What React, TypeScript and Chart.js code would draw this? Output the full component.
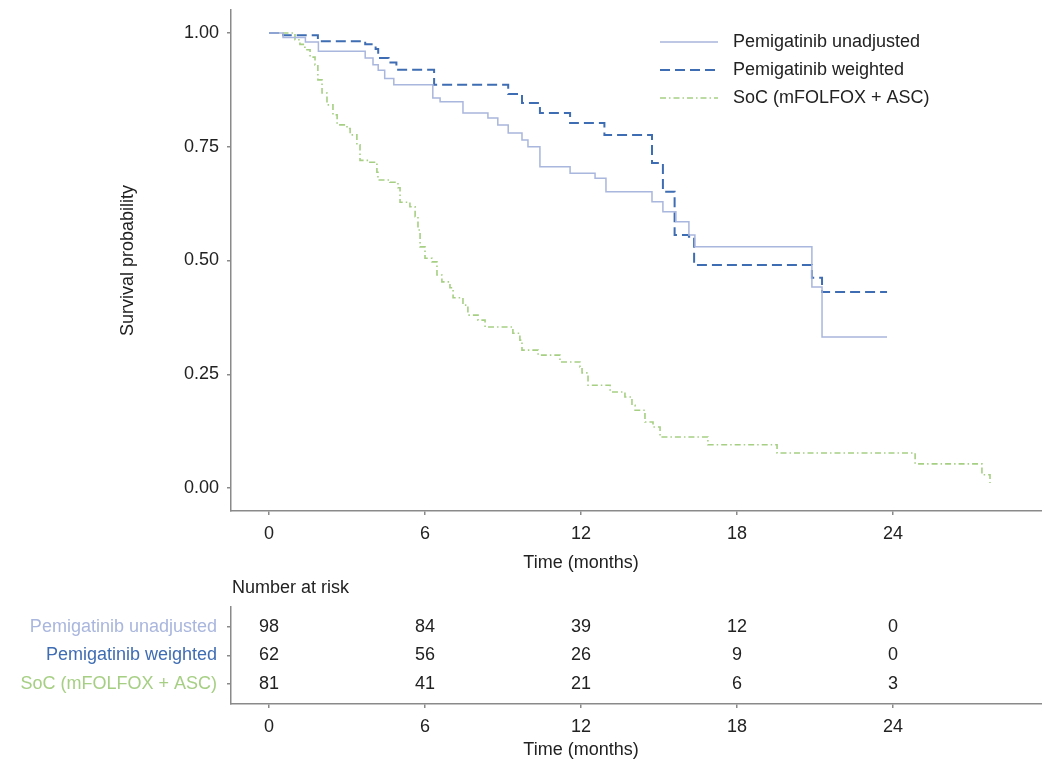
import React, { useEffect, useRef } from "react";
import { Chart, registerables } from "chart.js";

Chart.register(...registerables);

// ---------- data ----------
const unadjTime = [0, 0.54, 1.4, 1.9, 3.7, 4.0, 4.2, 4.45, 4.8, 6.3, 6.58, 7.46, 8.42, 8.8, 9.2, 9.73, 9.96, 10.42, 11.58, 12.54, 12.96, 14.73, 15.15, 15.65, 16.15, 16.38, 20.88, 21.27, 23.77];
const unadjSurv = [1.0, 0.99, 0.98, 0.96, 0.945, 0.93, 0.918, 0.9, 0.886, 0.857, 0.849, 0.824, 0.813, 0.798, 0.78, 0.765, 0.75, 0.706, 0.692, 0.681, 0.651, 0.629, 0.607, 0.585, 0.556, 0.53, 0.442, 0.332, 0.332];

const weightedTime = [0, 0.54, 1.88, 3.7, 4.1, 4.2, 4.6, 4.9, 6.35, 9.2, 9.73, 10.42, 11.58, 12.9, 14.73, 15.15, 15.6, 16.15, 16.35, 20.88, 21.27, 23.77];
const weightedSurv = [1.0, 0.995, 0.982, 0.975, 0.965, 0.945, 0.935, 0.919, 0.886, 0.866, 0.846, 0.824, 0.802, 0.776, 0.714, 0.651, 0.556, 0.552, 0.49, 0.462, 0.431, 0.431];

const socTime = [0, 1.0, 1.19, 1.38, 1.58, 1.77, 1.88, 2.04, 2.23, 2.46, 2.62, 3.0, 3.12, 3.38, 3.5, 3.88, 4.15, 4.19, 4.65, 4.96, 5.04, 5.42, 5.62, 5.73, 5.81, 6.0, 6.27, 6.46, 6.65, 6.96, 7.08, 7.46, 7.65, 8.04, 8.31, 9.38, 9.65, 9.73, 10.35, 11.19, 11.96, 12.04, 12.27, 13.12, 13.69, 13.96, 14.08, 14.46, 14.77, 15.04, 16.88, 19.54, 24.85, 27.42, 27.73];
const socSurv = [1.0, 0.985, 0.975, 0.963, 0.947, 0.93, 0.897, 0.868, 0.842, 0.82, 0.798, 0.79, 0.776, 0.754, 0.72, 0.716, 0.694, 0.677, 0.672, 0.66, 0.628, 0.618, 0.596, 0.567, 0.53, 0.505, 0.497, 0.468, 0.453, 0.44, 0.418, 0.402, 0.38, 0.369, 0.354, 0.34, 0.325, 0.303, 0.292, 0.277, 0.266, 0.253, 0.226, 0.211, 0.2, 0.182, 0.171, 0.145, 0.134, 0.112, 0.095, 0.077, 0.053, 0.029, 0.011];

const seriesLabels = ["Pemigatinib unadjusted", "Pemigatinib weighted", "SoC (mFOLFOX + ASC)"];
const xTickValues = [0, 6, 12, 18, 24];
const yTickValues = [0, 0.25, 0.5, 0.75, 1.0];

const riskTimes = [0, 6, 12, 18, 24];
const riskUnadj = [98, 84, 39, 12, 0];
const riskWeighted = [62, 56, 26, 9, 0];
const riskSoc = [81, 41, 21, 6, 3];

// ---------- styles ----------
const FONT_FAMILY = "'Liberation Sans', Arial, Helvetica, sans-serif";
const TEXT = "#222222";
const AXIS = "#8a8a8a";
const COLORS = ["#a9b6dd", "#3f6db3", "#a6cf84"];
const DASHES: number[][] = [[], [10, 5], [6, 3, 1.5, 3]];
const WIDTHS = [1.5, 2, 1.6];
const X_MIN = -1.4615;
const X_MAX = 29.73;

const toPoints = (t: number[], s: number[]) => t.map((v, i) => ({ x: v, y: s[i] }));

const mainDecor = {
  id: "mainDecor",
  afterDraw(chart: any) {
    const ctx = chart.ctx as CanvasRenderingContext2D;
    const xs = chart.scales.x;
    ctx.save();
    ctx.font = `18px ${FONT_FAMILY}`;
    ctx.fillStyle = TEXT;
    ctx.textAlign = "center";
    ctx.textBaseline = "middle";
    ctx.fillText("Time (months)", xs.getPixelForValue(12), 563);
    const lx = 660, lw = 58, tx = 733, ys = [42, 70, 98];
    for (let i = 0; i < 3; i++) {
      ctx.beginPath();
      ctx.setLineDash(DASHES[i]);
      ctx.strokeStyle = COLORS[i];
      ctx.lineWidth = WIDTHS[i];
      ctx.moveTo(lx, ys[i]);
      ctx.lineTo(lx + lw, ys[i]);
      ctx.stroke();
      ctx.setLineDash([]);
      ctx.textAlign = "left";
      ctx.fillStyle = TEXT;
      ctx.fillText(seriesLabels[i], tx, ys[i]);
    }
    ctx.restore();
  },
};

const riskDecor = {
  id: "riskDecor",
  afterDraw(chart: any) {
    const ctx = chart.ctx as CanvasRenderingContext2D;
    const xs = chart.scales.x;
    const ys = chart.scales.y;
    const rows = [riskUnadj, riskWeighted, riskSoc];
    ctx.save();
    ctx.font = `18px ${FONT_FAMILY}`;
    ctx.fillStyle = TEXT;
    ctx.textBaseline = "middle";
    ctx.textAlign = "center";
    rows.forEach((row, r) => {
      row.forEach((n, i) => {
        ctx.fillText(String(n), xs.getPixelForValue(riskTimes[i]), ys.getPixelForValue(r));
      });
    });
    ctx.fillText("Time (months)", xs.getPixelForValue(12), 175);
    ctx.textAlign = "left";
    ctx.fillText("Number at risk", 232, 13);
    ctx.restore();
  },
};

export default function App() {
  const mainRef = useRef<HTMLCanvasElement>(null);
  const riskRef = useRef<HTMLCanvasElement>(null);

  useEffect(() => {
    const tickFont = { family: FONT_FAMILY, size: 18 };
    const series = [
      toPoints(unadjTime, unadjSurv),
      toPoints(weightedTime, weightedSurv),
      toPoints(socTime, socSurv),
    ];
    const gridOpts = { display: true, drawOnChartArea: false, drawTicks: true, tickLength: 4, color: AXIS, lineWidth: 1.5 };
    const borderOpts = { display: true, color: AXIS, width: 1.5 };
    const main = new Chart(mainRef.current as HTMLCanvasElement, {
      type: "line",
      data: {
        datasets: series.map((d, i) => ({
          label: seriesLabels[i],
          data: d,
          borderColor: COLORS[i],
          borderWidth: WIDTHS[i],
          borderDash: DASHES[i],
          stepped: "before" as const,
          pointRadius: 0,
          fill: false,
        })),
      },
      options: {
        animation: false,
        responsive: true,
        maintainAspectRatio: false,
        layout: { padding: { top: 10, left: 0, right: 0, bottom: 0 } },
        plugins: { legend: { display: false }, tooltip: { enabled: false } },
        scales: {
          x: {
            type: "linear",
            min: X_MIN,
            max: X_MAX,
            afterBuildTicks: (s: any) => {
              s.ticks = xTickValues.map((v) => ({ value: v }));
            },
            afterFit: (s: any) => {
              s.height = 64;
              s.paddingLeft = 0;
              s.paddingRight = 0;
            },
            grid: gridOpts,
            border: borderOpts,
            ticks: { font: tickFont, color: TEXT, padding: 8, maxRotation: 0, autoSkip: false },
          },
          y: {
            type: "linear",
            min: -0.0505,
            max: 1.0505,
            afterBuildTicks: (s: any) => {
              s.ticks = yTickValues.map((v) => ({ value: v }));
            },
            afterFit: (s: any) => {
              s.width = 231;
              s.paddingTop = 0;
              s.paddingBottom = 0;
            },
            grid: gridOpts,
            border: borderOpts,
            ticks: {
              font: tickFont,
              color: TEXT,
              padding: 8,
              autoSkip: false,
              callback: (v: any) => Number(v).toFixed(2),
            },
            title: {
              display: true,
              text: "Survival probability",
              font: tickFont,
              color: TEXT,
              padding: { top: 117, bottom: 0 },
            },
          },
        },
      },
      plugins: [mainDecor],
    } as any);

    const risk = new Chart(riskRef.current as HTMLCanvasElement, {
      type: "scatter",
      data: { datasets: [] },
      options: {
        animation: false,
        responsive: true,
        maintainAspectRatio: false,
        layout: { padding: { top: 32, left: 0, right: 0, bottom: 0 } },
        plugins: { legend: { display: false }, tooltip: { enabled: false } },
        scales: {
          x: {
            type: "linear",
            min: X_MIN,
            max: X_MAX,
            afterBuildTicks: (s: any) => {
              s.ticks = riskTimes.map((v) => ({ value: v }));
            },
            afterFit: (s: any) => {
              s.height = 63;
              s.paddingLeft = 0;
              s.paddingRight = 0;
            },
            grid: gridOpts,
            border: borderOpts,
            ticks: { font: tickFont, color: TEXT, padding: 8, maxRotation: 0, autoSkip: false },
          },
          y: {
            type: "linear",
            reverse: true,
            min: -0.7,
            max: 2.7,
            afterBuildTicks: (s: any) => {
              s.ticks = [0, 1, 2].map((v) => ({ value: v }));
            },
            afterFit: (s: any) => {
              s.width = 231;
              s.paddingTop = 0;
              s.paddingBottom = 0;
            },
            grid: gridOpts,
            border: borderOpts,
            ticks: {
              font: tickFont,
              color: (c: any) => COLORS[c.index] ?? TEXT,
              padding: 10,
              autoSkip: false,
              callback: (v: any) => seriesLabels[Math.round(Number(v))] ?? "",
            },
          },
        },
      },
      plugins: [riskDecor],
    } as any);

    return () => {
      main.destroy();
      risk.destroy();
    };
  }, []);

  return (
    <div style={{ position: "absolute", left: 0, top: 0, width: 1042, height: 767, background: "#ffffff" }}>
      <div style={{ position: "absolute", left: 0, top: 0, width: 1042, height: 575 }}>
        <canvas ref={mainRef} />
      </div>
      <div style={{ position: "absolute", left: 0, top: 575, width: 1042, height: 192 }}>
        <canvas ref={riskRef} />
      </div>
    </div>
  );
}
